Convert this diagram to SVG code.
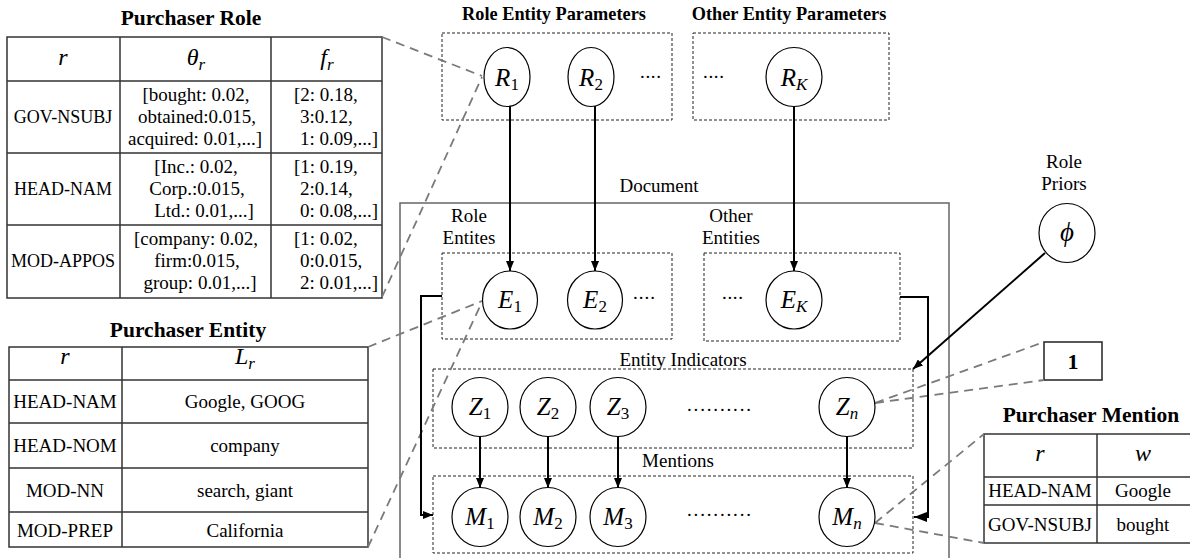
<svg xmlns="http://www.w3.org/2000/svg" width="1190" height="558" viewBox="0 0 1190 558">
<style>
.t{font-family:"Liberation Serif","DejaVu Serif",serif;fill:#000}
.it{font-style:italic}
.b{font-weight:bold}
.node{fill:#fff;stroke:#000;stroke-width:1.2}
.dbox{fill:none;stroke:#222;stroke-width:1;stroke-dasharray:3 2}
.conn{stroke:#000;stroke-width:2;fill:none}
.lead{stroke:#7a7a7a;stroke-width:1.8;stroke-dasharray:9 6;fill:none}
.tbl{fill:none;stroke:#333;stroke-width:1.5}
.doc{fill:none;stroke:#666;stroke-width:1.5}
</style>
<defs>
<marker id="ah" markerUnits="userSpaceOnUse" markerWidth="10" markerHeight="8" refX="10" refY="4" orient="auto"><path d="M0,0 L10,4 L0,8 z" fill="#000"/></marker>
<marker id="ahb" markerUnits="userSpaceOnUse" markerWidth="13" markerHeight="10" refX="13" refY="5" orient="auto"><path d="M0,0 L13,5 L0,10 z" fill="#000"/></marker>
</defs>

<!-- Purchaser Role table -->
<g id="purchaser-role">
<text class="t b" x="191" y="25" font-size="21.5" text-anchor="middle">Purchaser Role</text>
<rect class="tbl" x="7" y="37" width="375" height="261"/>
<path class="tbl" d="M120,37V298M271,37V298M7,81H382M7,153H382M7,225H382"/>
<text class="t it" x="63" y="65" font-size="24" text-anchor="middle">r</text>
<text class="t" x="196" y="65" font-size="24" text-anchor="middle"><tspan class="it">θ</tspan><tspan class="it" font-size="17" dy="5">r</tspan></text>
<text class="t" x="327" y="65" font-size="24" text-anchor="middle"><tspan class="it">f</tspan><tspan class="it" font-size="17" dy="5">r</tspan></text>
<g class="t" font-size="18" text-anchor="middle">
<text x="63" y="123">GOV-NSUBJ</text>
<text x="63" y="195">HEAD-NAM</text>
<text x="63" y="267">MOD-APPOS</text>
</g>
<g class="t" font-size="19" text-anchor="middle">
<text x="196" y="101">[bought: 0.02,</text>
<text x="197" y="123">obtained:0.015,</text>
<text x="195" y="145">acquired: 0.01,...]</text>
<text x="196" y="173">[Inc.: 0.02,</text>
<text x="197" y="195">Corp.:0.015,</text>
<text x="204" y="217">Ltd.: 0.01,...]</text>
<text x="196" y="245">[company: 0.02,</text>
<text x="197" y="267">firm:0.015,</text>
<text x="200" y="289">group: 0.01,...]</text>
</g>
<g class="t" font-size="19">
<text x="294" y="101">[2: 0.18,</text>
<text x="300" y="123">3:0.12,</text>
<text x="300" y="145">1: 0.09,...]</text>
<text x="294" y="173">[1: 0.19,</text>
<text x="300" y="195">2:0.14,</text>
<text x="300" y="217">0: 0.08,...]</text>
<text x="294" y="245">[1: 0.02,</text>
<text x="300" y="267">0:0.015,</text>
<text x="300" y="289">2: 0.01,...]</text>
</g>
</g>

<!-- Purchaser Entity table -->
<g id="purchaser-entity">
<text class="t b" x="188" y="337" font-size="21.5" text-anchor="middle">Purchaser Entity</text>
<rect class="tbl" x="9" y="347" width="359" height="200"/>
<path class="tbl" d="M122,347V547M9,380H368M9,423H368M9,468H368M9,512H368"/>
<text class="t it" x="65" y="364" font-size="24" text-anchor="middle">r</text>
<text class="t" x="245" y="364" font-size="24" text-anchor="middle"><tspan class="it">L</tspan><tspan class="it" font-size="17" dy="5">r</tspan></text>
<g class="t" font-size="19" text-anchor="middle">
<text x="65" y="408">HEAD-NAM</text>
<text x="65" y="452">HEAD-NOM</text>
<text x="65" y="497">MOD-NN</text>
<text x="65" y="537">MOD-PREP</text>
<text x="245" y="408">Google, GOOG</text>
<text x="245" y="452">company</text>
<text x="245" y="497">search, giant</text>
<text x="245" y="537">California</text>
</g>
</g>

<!-- Purchaser Mention table -->
<g id="purchaser-mention">
<text class="t b" x="1091" y="422" font-size="21.5" text-anchor="middle">Purchaser Mention</text>
<rect class="tbl" x="984" y="434" width="210" height="109"/>
<path class="tbl" d="M1097,434V543M984,477H1192M984,505H1192"/>
<text class="t it" x="1040" y="461" font-size="24" text-anchor="middle">r</text>
<text class="t it" x="1143" y="461" font-size="24" text-anchor="middle">w</text>
<g class="t" font-size="19" text-anchor="middle">
<text x="1040" y="497">HEAD-NAM</text>
<text x="1040" y="531">GOV-NSUBJ</text>
<text x="1143" y="497">Google</text>
<text x="1143" y="531">bought</text>
</g>
</g>

<!-- Containers -->
<g id="role-entity-parameters">
<text class="t b" x="554" y="20" font-size="18.3" text-anchor="middle">Role Entity Parameters</text>
<rect class="dbox" x="442" y="33" width="230" height="87"/>
<text class="t" x="640" y="78" font-size="19" textLength="21" lengthAdjust="spacing">....</text>
</g>
<g id="other-entity-parameters">
<text class="t b" x="789" y="20" font-size="18.3" text-anchor="middle">Other Entity Parameters</text>
<rect class="dbox" x="693" y="33" width="196" height="87"/>
<text class="t" x="703" y="78" font-size="19" textLength="21" lengthAdjust="spacing">....</text>
</g>
<g id="document">
<text class="t" x="659" y="192" font-size="19" text-anchor="middle">Document</text>
<rect class="doc" x="400" y="203" width="549" height="370"/>
</g>
<g id="role-entities">
<text class="t" x="469" y="222" font-size="19" text-anchor="middle">Role</text>
<text class="t" x="469" y="244" font-size="19" text-anchor="middle">Entites</text>
<rect class="dbox" x="442" y="253" width="230" height="86"/>
<text class="t" x="633" y="299" font-size="19" textLength="22" lengthAdjust="spacing">....</text>
</g>
<g id="other-entities">
<text class="t" x="731" y="222" font-size="19" text-anchor="middle">Other</text>
<text class="t" x="731" y="244" font-size="19" text-anchor="middle">Entities</text>
<rect class="dbox" x="704" y="253" width="196" height="88"/>
<text class="t" x="722" y="299" font-size="19" textLength="21" lengthAdjust="spacing">....</text>
</g>
<g id="entity-indicators">
<text class="t" x="683" y="366" font-size="19" text-anchor="middle">Entity Indicators</text>
<rect class="dbox" x="433" y="369" width="480" height="79"/>
<text class="t" x="687" y="411" font-size="19" textLength="64" lengthAdjust="spacing">..........</text>
</g>
<g id="mentions">
<text class="t" x="678" y="467" font-size="19" text-anchor="middle">Mentions</text>
<rect class="dbox" x="433" y="476" width="480" height="77"/>
<text class="t" x="687" y="516" font-size="19" textLength="64" lengthAdjust="spacing">..........</text>
</g>
<g id="box-1">
<rect x="1044" y="342" width="58" height="38" fill="#fff" stroke="#222" stroke-width="1.5"/>
<text class="t b" x="1073" y="369" font-size="22" text-anchor="middle">1</text>
</g>

<!-- Connectors -->
<g id="connectors">
<path class="lead" d="M382,37L482,76"/>
<path class="lead" d="M382,297L482,77"/>
<path class="lead" d="M368,347L482,301"/>
<path class="lead" d="M368,547L482,302"/>
<path class="lead" d="M875,403L1044,342"/>
<path class="lead" d="M875,403L1044,380"/>
<path class="lead" d="M875,523L984,434"/>
<path class="lead" d="M875,523L984,543"/>
<path class="conn" d="M510,106V271" marker-end="url(#ah)"/>
<path class="conn" d="M595,106V271" marker-end="url(#ah)"/>
<path class="conn" d="M794,106V271" marker-end="url(#ah)"/>
<path class="conn" d="M480,436V488" marker-end="url(#ah)"/>
<path class="conn" d="M548,436V488" marker-end="url(#ah)"/>
<path class="conn" d="M618,436V488" marker-end="url(#ah)"/>
<path class="conn" d="M847,436V488" marker-end="url(#ah)"/>
<path class="conn" d="M442,296H421V515H433" marker-end="url(#ah)"/>
<path class="conn" d="M900,297H928V517H914" marker-end="url(#ahb)"/>
<path class="conn" d="M1045,253L913,369" marker-end="url(#ah)"/>
</g>

<!-- Nodes -->
<g id="R1"><ellipse class="node" cx="507" cy="77" rx="23" ry="29.5"/><text class="t" x="507" y="86" font-size="25" text-anchor="middle"><tspan class="it">R</tspan><tspan font-size="17" dy="4">1</tspan></text></g>
<g id="R2"><ellipse class="node" cx="591" cy="77" rx="23" ry="29.5"/><text class="t" x="591" y="86" font-size="25" text-anchor="middle"><tspan class="it">R</tspan><tspan font-size="17" dy="4">2</tspan></text></g>
<g id="RK"><ellipse class="node" cx="794" cy="77" rx="28" ry="29.5"/><text class="t" x="794" y="86" font-size="25" text-anchor="middle"><tspan class="it">R</tspan><tspan class="it" font-size="17" dy="4">K</tspan></text></g>
<g id="E1"><ellipse class="node" cx="510" cy="300" rx="27.5" ry="29"/><text class="t" x="510" y="308" font-size="25" text-anchor="middle"><tspan class="it">E</tspan><tspan font-size="17" dy="4">1</tspan></text></g>
<g id="E2"><ellipse class="node" cx="595" cy="300" rx="27.5" ry="29"/><text class="t" x="595" y="308" font-size="25" text-anchor="middle"><tspan class="it">E</tspan><tspan font-size="17" dy="4">2</tspan></text></g>
<g id="EK"><ellipse class="node" cx="794" cy="300" rx="28" ry="29"/><text class="t" x="794" y="308" font-size="25" text-anchor="middle"><tspan class="it">E</tspan><tspan class="it" font-size="17" dy="4">K</tspan></text></g>
<g id="Z1"><ellipse class="node" cx="480" cy="407" rx="28" ry="29.5"/><text class="t" x="480" y="415" font-size="25" text-anchor="middle"><tspan class="it">Z</tspan><tspan font-size="17" dy="4">1</tspan></text></g>
<g id="Z2"><ellipse class="node" cx="548" cy="407" rx="28" ry="29.5"/><text class="t" x="548" y="415" font-size="25" text-anchor="middle"><tspan class="it">Z</tspan><tspan font-size="17" dy="4">2</tspan></text></g>
<g id="Z3"><ellipse class="node" cx="618" cy="407" rx="28" ry="29.5"/><text class="t" x="618" y="415" font-size="25" text-anchor="middle"><tspan class="it">Z</tspan><tspan font-size="17" dy="4">3</tspan></text></g>
<g id="Zn"><ellipse class="node" cx="847" cy="407" rx="28" ry="29.5"/><text class="t" x="847" y="415" font-size="25" text-anchor="middle"><tspan class="it">Z</tspan><tspan class="it" font-size="17" dy="4">n</tspan></text></g>
<g id="M1"><ellipse class="node" cx="480" cy="517" rx="28" ry="29.5"/><text class="t" x="480" y="525" font-size="25" text-anchor="middle"><tspan class="it">M</tspan><tspan font-size="17" dy="4">1</tspan></text></g>
<g id="M2"><ellipse class="node" cx="548" cy="517" rx="28" ry="29.5"/><text class="t" x="548" y="525" font-size="25" text-anchor="middle"><tspan class="it">M</tspan><tspan font-size="17" dy="4">2</tspan></text></g>
<g id="M3"><ellipse class="node" cx="618" cy="517" rx="28" ry="29.5"/><text class="t" x="618" y="525" font-size="25" text-anchor="middle"><tspan class="it">M</tspan><tspan font-size="17" dy="4">3</tspan></text></g>
<g id="Mn"><ellipse class="node" cx="847" cy="517" rx="28" ry="29.5"/><text class="t" x="847" y="525" font-size="25" text-anchor="middle"><tspan class="it">M</tspan><tspan class="it" font-size="17" dy="4">n</tspan></text></g>
<g id="phi">
<text class="t" x="1064" y="168" font-size="19" text-anchor="middle">Role</text>
<text class="t" x="1064" y="190" font-size="19" text-anchor="middle">Priors</text>
<ellipse class="node" cx="1067" cy="233" rx="28" ry="29.5"/>
<text class="t it" x="1067" y="241" font-size="27" text-anchor="middle">ϕ</text>
</g>
</svg>
